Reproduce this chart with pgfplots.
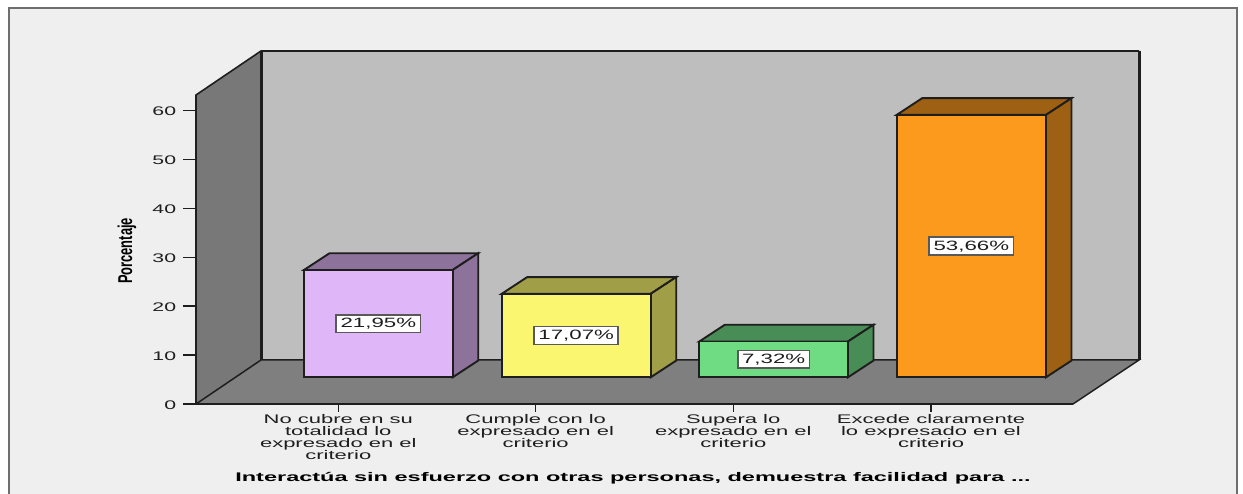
\documentclass[border=0pt]{standalone}
\usepackage{fontspec}
\setmainfont{Liberation Sans}
\usepackage{pgfplots}
\pgfplotsset{compat=1.18}
\definecolor{panel}{HTML}{EFEFEF}
\definecolor{framec}{HTML}{6E6E6E}
\definecolor{wallL}{HTML}{787878}
\definecolor{wallB}{HTML}{BEBEBE}
\definecolor{floorc}{HTML}{7F7F7F}
\definecolor{ink}{HTML}{1E1E1E}
\definecolor{lilac}{HTML}{DFB6F7}
\definecolor{lilacD}{HTML}{8D729B}
\definecolor{lemon}{HTML}{FBF66F}
\definecolor{lemonD}{HTML}{A09E46}
\definecolor{mint}{HTML}{6FDC84}
\definecolor{mintD}{HTML}{488D55}
\definecolor{amber}{HTML}{FC9A1E}
\definecolor{amberD}{HTML}{9E6012}
\pgfplotsset{
  frame3d/.style={scale only axis, width=877pt, height=309pt,
    xmin=196, xmax=1073, ymin=0, ymax=63.19, clip=false},
  face/.style={draw=ink, line width=1.9pt, line join=miter, fill=#1, no markers},
  front/.style={ybar, bar width=149pt, bar shift=0pt, draw=ink, line width=1.9pt, fill=#1},
}
\begin{document}
\begin{tikzpicture}[x=1pt,y=1pt]
% panel and its frame (open at the bottom edge)
\path[use as bounding box, fill=white] (0,0) rectangle (1243,494);
\fill[panel] (9,0) rectangle (1237,486);
\draw[framec, line width=2.2pt] (9,0) -- (9,486) -- (1237,486) -- (1237,0);

% walls, floor, axes and tick labels, in percent
\begin{axis}[frame3d, at={(196pt,90pt)}, anchor=south west,
  axis x line*=bottom, axis y line*=left,
  axis line style={ink, line width=1.4pt, -},
  /pgf/number format/assume math mode=true,
  ytick={0,10,20,30,40,50,60},
  xtick={338.3,535.7,733.3,931},
  xticklabels={{No cubre en su\\totalidad lo\\expresado en el\\criterio},
    {Cumple con lo\\expresado en el\\criterio},
    {Supera lo\\expresado en el\\criterio},
    {Excede claramente\\lo expresado en el\\criterio}},
  x tick style={ink, line width=1.4pt, /pgfplots/major tick length=8pt},
  y tick style={ink, line width=1.4pt, /pgfplots/major tick length=13pt},
  tick align=outside,
  xticklabel style={font=\fontsize{12.5}{12}\selectfont, align=center, text=ink,
    xscale=1.76, transform shape, anchor=north, inner sep=0pt, yshift=-6pt},
  yticklabel style={font=\fontsize{12.5}{12}\selectfont, text=ink,
    xscale=1.7, transform shape, anchor=east, inner sep=0pt, xshift=-9pt, yshift=-1pt},
  xlabel={Interactúa sin esfuerzo con otras personas, demuestra facilidad para \raisebox{-0.1ex}{...}},
  xlabel style={at={(axis cs:633,-15.13)}, anchor=center, inner sep=0pt,
    font=\fontsize{12.5}{12}\selectfont\bfseries, text=black, xscale=1.88, transform shape},
  ylabel={Porcentaje},
  ylabel style={at={(axis cs:127,31.3)}, anchor=center, rotate=0, inner sep=0pt,
    font=\fontsize{20}{20}\selectfont\bfseries, text=black, xscale=0.645, transform shape},
]
\addplot[fill=wallB, draw=none, no markers] coordinates {(261,9)(261,72.19)(1139,72.19)(1139,9)} --cycle;
\addplot[fill=wallL, draw=none, no markers] coordinates {(196,0)(196,63.19)(261,72.19)(261,9)} --cycle;
\addplot[fill=floorc, draw=none, no markers] coordinates {(196,0)(261,9)(1139,9)(1073,0)} --cycle;
% wall and floor edges
\addplot[ink, line width=1.6pt, no markers] coordinates {(196,0)(196,63.19)(261,72.19)(1139,72.19)};
\addplot[ink, line width=3pt, no markers] coordinates {(261,72.19)(261,9)};
\addplot[ink, line width=3pt, no markers] coordinates {(1139,72.19)(1139,9)};
\addplot[ink, line width=1.5pt, no markers] coordinates {(196,0)(261,9)(1139,9)(1073,0)(196,0)};
\end{axis}

% bars, standing on the raised floor line
\begin{axis}[frame3d, at={(196pt,116.7pt)}, anchor=south west, hide axis]
% No cubre
\addplot[face=lilacD] coordinates {(304,21.95)(329.5,25.37)(478.2,25.37)(452.7,21.95)} --cycle;
\addplot[face=lilacD] coordinates {(452.7,0)(478.2,3.42)(478.2,25.37)(452.7,21.95)} --cycle;
\addplot[front=lilac] coordinates {(378.35,21.95)};
% Cumple
\addplot[face=lemonD] coordinates {(501.7,17.07)(527.2,20.49)(676.2,20.49)(650.7,17.07)} --cycle;
\addplot[face=lemonD] coordinates {(650.7,0)(676.2,3.42)(676.2,20.49)(650.7,17.07)} --cycle;
\addplot[front=lemon] coordinates {(576.2,17.07)};
% Supera
\addplot[face=mintD] coordinates {(699.3,7.32)(724.8,10.74)(873.5,10.74)(848,7.32)} --cycle;
\addplot[face=mintD] coordinates {(848,0)(873.5,3.42)(873.5,10.74)(848,7.32)} --cycle;
\addplot[front=mint] coordinates {(773.65,7.32)};
% Excede
\addplot[face=amberD] coordinates {(896.7,53.66)(922.2,57.08)(1071.5,57.08)(1046,53.66)} --cycle;
\addplot[face=amberD] coordinates {(1046,0)(1071.5,3.42)(1071.5,57.08)(1046,53.66)} --cycle;
\addplot[front=amber] coordinates {(971.35,53.66)};
% value boxes at mid height of each bar
\addplot[draw=none, no markers, point meta=explicit symbolic,
  nodes near coords, nodes near coords align={center},
  every node near coord/.append style={font=\fontsize{13.5}{13.5}\selectfont, text=ink,
    fill=white, draw=gray!70!black, line width=1.6pt, inner xsep=2.6pt, inner ysep=3.6pt,
    text height=9.6pt, text depth=1pt, xscale=1.65, transform shape}]
  table[meta=label, row sep=\\] {
    x y label\\
    378.35 10.975 {21,95\%}\\
    576.2 8.535 {17,07\%}\\
    773.65 3.66 {7,32\%}\\
    971.35 26.83 {53,66\%}\\
  };
\end{axis}
\end{tikzpicture}
\end{document}
